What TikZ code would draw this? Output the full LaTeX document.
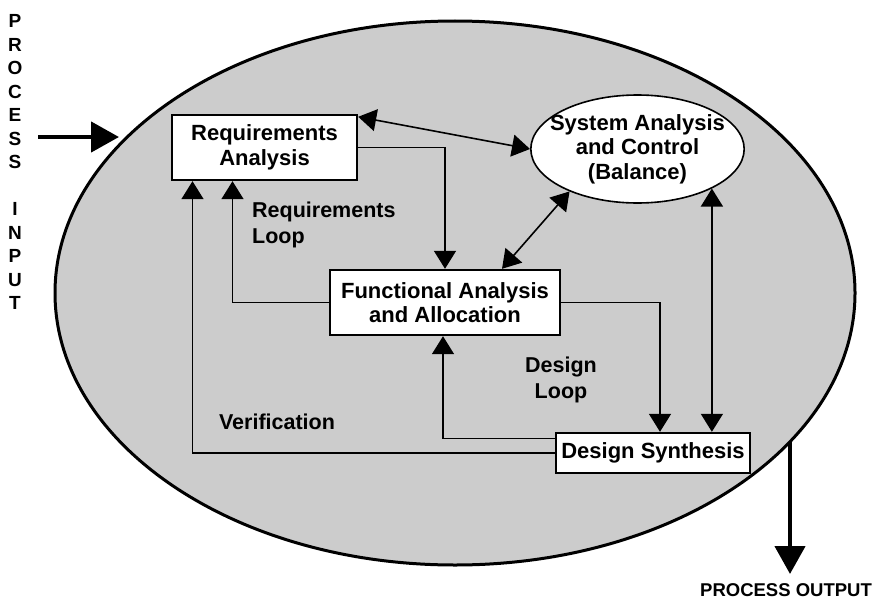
\documentclass[tikz,border=0pt]{standalone}
\usepackage{fontspec}
\setmainfont{Liberation Sans}
\usetikzlibrary{arrows.meta,shapes.geometric}
\definecolor{ovalgray}{RGB}{204,204,204}
\tikzset{
	block/.style={draw,fill=white,line width=2.4pt,inner sep=0pt,align=center,font=\bfseries\fontsize{22}{24.5}\selectfont},
	tag/.style={font=\bfseries\fontsize{21.5}{26}\selectfont,inner sep=0pt},
	link/.style={line width=1.6pt,-{Triangle[length=18pt,width=22pt]}},
	twoway/.style={line width=1.6pt,{Triangle[length=18pt,width=22pt]}-{Triangle[length=18pt,width=22pt]}},
	bigarrow/.style={line width=4.5pt,-{Triangle[length=28pt,width=30pt]}}
}
\begin{document}
\begin{tikzpicture}[x=1pt,y=-1pt]
	\useasboundingbox (0,0) rectangle (877,602);
	\draw[fill=ovalgray,line width=3pt] (455,293) ellipse [x radius=400,y radius=272];
	
	\node[block,minimum width=185,minimum height=65] (ra) at (264.5,147.5) {Requirements\\Analysis};
	\node[block,ellipse,line width=1.6pt,inner xsep=-12pt,inner ysep=0pt,minimum width=209,minimum height=108] (sac) at (637.5,149) {System Analysis\\and Control\\(Balance)};
	\node[block,minimum width=230,minimum height=65] (faa) at (445,302.5) {Functional Analysis\\and Allocation};
	\node[block,minimum width=194,minimum height=40] (ds) at (653,453) {Design Synthesis};
	
	\node[tag,align=left,anchor=west] (reqloop) at (252,225) {Requirements\\Loop};
	\node[tag,align=center] (desloop) at (561,380) {Design\\Loop};
	\node[tag] (verif) at (277,422) {Verification};
	\node[tag,font=\bfseries\fontsize{19}{23.5}\selectfont,align=center] (pin) at (15,162) {P\\R\\O\\C\\E\\S\\S\\ \mbox{}\\ I\\N\\P\\U\\T};
	\node[tag,font=\bfseries\fontsize{18.5}{22}\selectfont] (pout) at (786,590) {PROCESS OUTPUT};
	
	\coordinate (intail) at (38,137);
	\coordinate (inhead) at (119,137);
	\coordinate (outtop) at (790,442);
	\coordinate (outend) at (790,574);
	
	\draw[bigarrow] (intail) -- (inhead);
	\draw[bigarrow] (outtop) -- (outend);
	
	\draw[twoway] ([yshift=-3pt]ra.north east) -- (sac.west);
	\draw[link] (ra.east) -| (faa.north);
	\draw[twoway] (sac.212) -- ([xshift=57pt]faa.north);
	\draw[link] (faa.east) -| ([xshift=7pt]ds.north);
	\draw[twoway] (sac.-28) -- (sac.-28 |- ds.north);
	\draw[link] ([yshift=14.5pt]ds.west) -| ([xshift=-2pt]faa.south);
	\draw[link] (faa.west) -| ([xshift=-32pt]ra.south);
	\draw[link] (ds.west) -| ([xshift=-72pt]ra.south);
\end{tikzpicture}
\end{document}
